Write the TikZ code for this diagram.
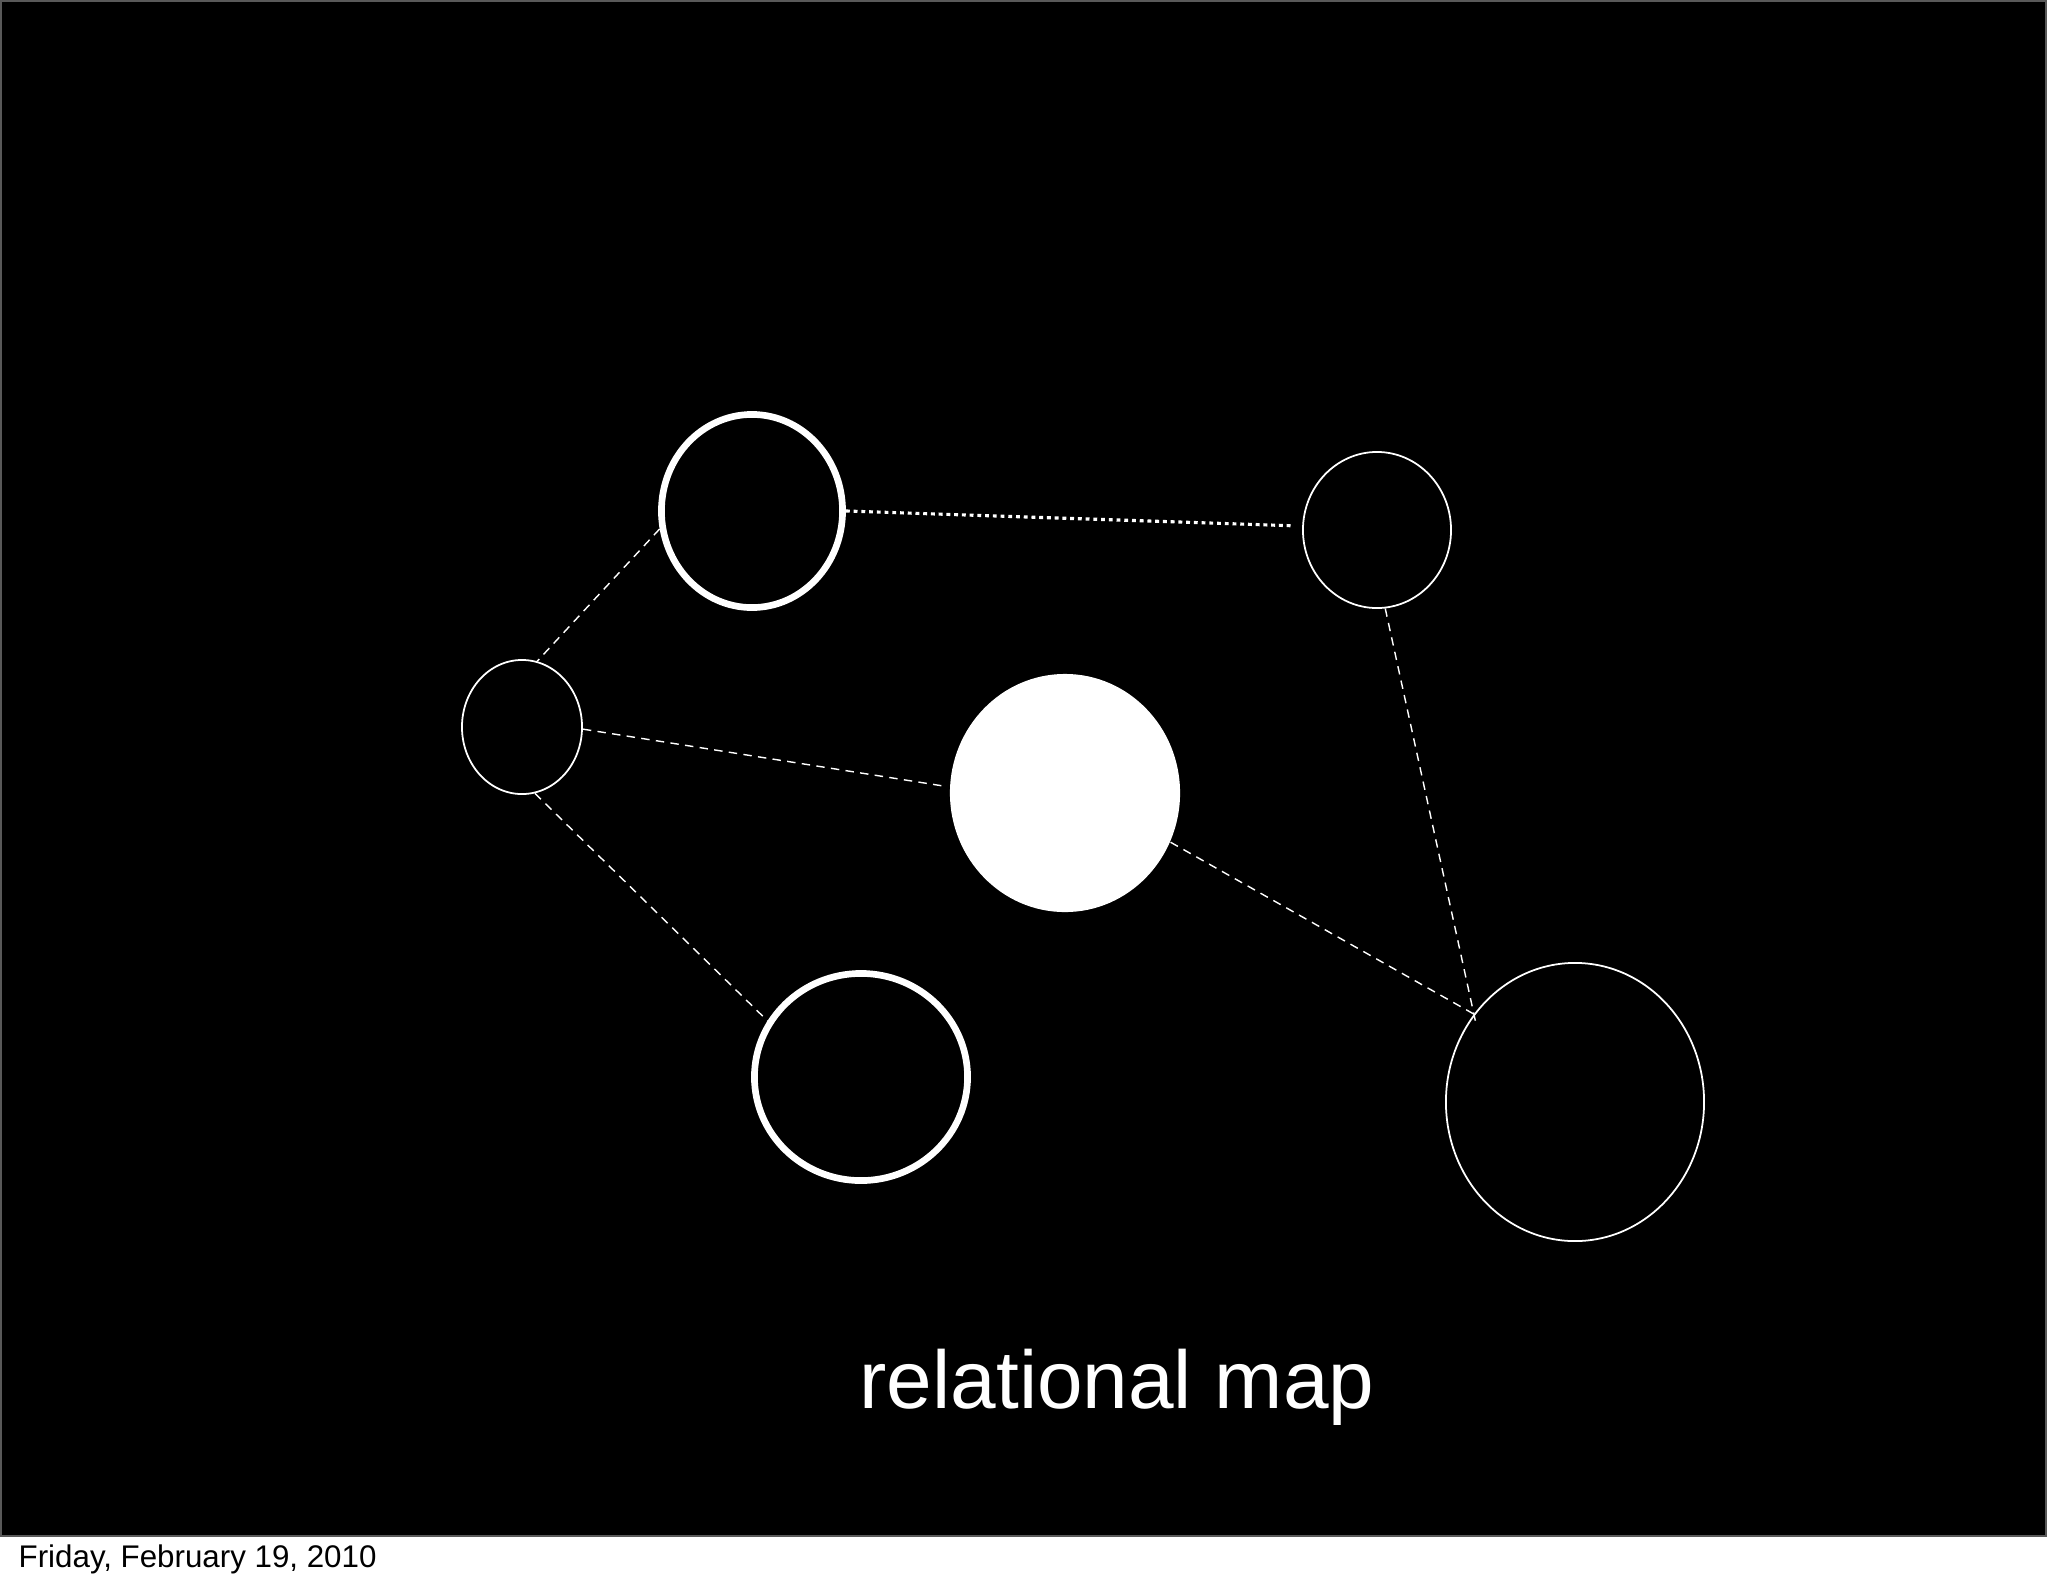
\documentclass[tikz,border=0pt]{standalone}
\usepackage{fontspec}
\setmainfont{Liberation Sans}
\usetikzlibrary{shapes.geometric}

\begin{document}
\begin{tikzpicture}[x=0.01cm, y=-0.01cm,
  thinring/.style={ellipse, draw=white, line width=0.5pt, inner sep=0pt},
  thickring/.style={ellipse, draw=white, line width=1.9pt, inner sep=0pt},
  link/.style={draw=white, line width=0.4pt, dash pattern=on 2.4pt off 1.8pt},
  fine/.style={draw=white, line width=0.9pt, dash pattern=on 1.1pt off 1.1pt},
]
\useasboundingbox (0,0) rectangle (2048,1587);
\fill[white] (0,0) rectangle (2048,1587);
\draw[fill=black, draw=black!65, line width=0.6pt] (1,1) rectangle (2046,1536);

% --- Circles ---
\node[thickring, minimum width=1.81cm, minimum height=1.93cm] (nA) at (752,511) {};
\node[thinring, minimum width=1.48cm, minimum height=1.56cm] (nB) at (1377,530) {};
\node[thinring, minimum width=1.20cm, minimum height=1.34cm] (nC) at (522,727) {};
\node[ellipse, fill=white, inner sep=0pt, minimum width=2.30cm,
  minimum height=2.38cm] (nD) at (1065,793) {};
\node[thickring, minimum width=2.13cm, minimum height=2.07cm] (nE) at (861,1077) {};
\node[thinring, minimum width=2.58cm, minimum height=2.78cm] (nF) at (1575,1102) {};

% --- Links ---
\draw[fine, shorten >=2.5pt] (nA.east) -- (nB.177);
\draw[link] (nA.191) -- (nC.77);
\draw[link, shorten >=2pt] (nC.358) -- (nD.177);
\draw[link] (nC.281) -- (nE.149);
\draw[link] (nD.335) -- (nF.139);
\draw[link, shorten >=-2pt] (nB.276) -- (nF.139.5);

% --- Texts ---
\node[text=white, anchor=base, inner sep=0pt, font=\fontsize{23.3}{28}\selectfont]
  (title) at (1117,1408) {relational map};
\node[anchor=base west, inner sep=0pt, font=\fontsize{8.9}{10}\selectfont]
  (date) at (18,1567) {Friday, February 19, 2010};
\end{tikzpicture}
\end{document}
